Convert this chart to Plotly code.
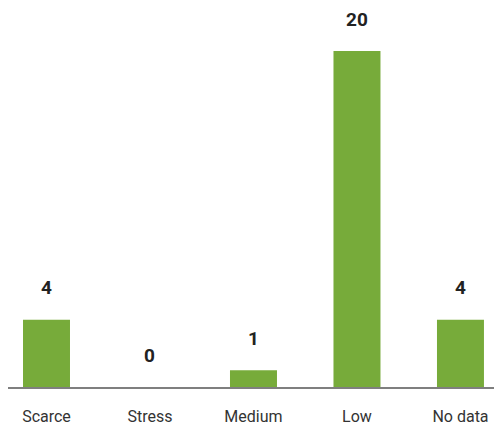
import plotly.graph_objects as go

categories = ["Scarce", "Stress", "Medium", "Low", "No data"]
values = [4, 0, 1, 20, 4]

GREEN = "#77AB3A"
TEXT = "#222222"

fig = go.Figure()
fig.add_trace(go.Bar(
    x=categories, y=values,
    marker=dict(color=GREEN, line=dict(width=0)),
    width=0.454,
    hoverinfo="skip",
))

for c, v in zip(categories, values):
    fig.add_annotation(
        x=c, y=v, text=f"<b>{v}</b>", showarrow=False,
        yshift=32, yanchor="middle",
        font=dict(family="Roboto", size=19, color=TEXT),
    )

fig.update_layout(
    width=494, height=425,
    margin=dict(l=8, r=0, t=0, b=38, autoexpand=False),
    paper_bgcolor="white", plot_bgcolor="white",
    showlegend=False,
    xaxis=dict(
        range=[-0.372, 4.324],
        showline=True, linecolor="rgba(0,0,0,0.5)", linewidth=2,
        showgrid=False, zeroline=False, ticks="",
        tickfont=dict(family="Roboto", size=16, color="#333333"),
        ticklabelstandoff=14,
        automargin=False,
        layer="above traces",
    ),
    yaxis=dict(
        range=[0, 23.04], visible=False, showgrid=False, zeroline=False,
    ),
)

fig.write_html(
    "out.html",
    config={"displayModeBar": False},
    post_script="document.body.style.margin='0';document.body.style.overflow='hidden';",
)
